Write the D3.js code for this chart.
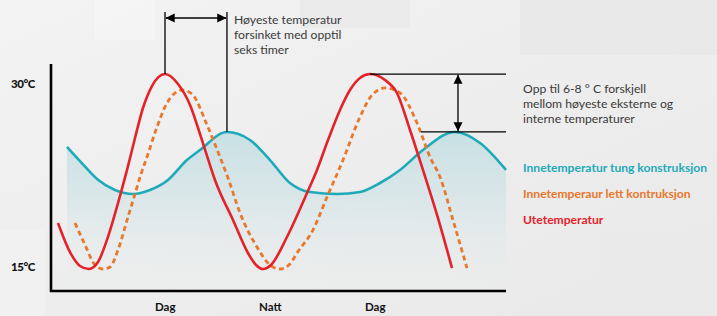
<!DOCTYPE html>
<html><head><meta charset="utf-8">
<script src="https://cdn.jsdelivr.net/npm/d3@7"></script>
<style>
html,body{margin:0;padding:0;background:#ececec;}
svg{display:block;font-family:Lato,"Open Sans","DejaVu Sans",sans-serif;}
</style>
</head><body>
<svg id="c" width="717" height="316"></svg>
<script>
// ---- data (hours along the time axis, temperature in °C) ----
const outdoorHours = [0.8,2.17,3.31,4.34,5.37,6.51,7.66,8.69,9.6,10.51,11.54,13.03,14.51,15.89,17.03,17.94,18.74,20.8,22.51,23.43,24.23,25.14,26.97,29.26,30.4,31.66,33.03,34.17,35.31,36.46,38.17,39.54,41.03,42.51,44.46,45.83];
const outdoorTemp  = [18.57,16.19,15.05,14.8,15.37,17.42,20.2,22.91,25.52,27.98,29.78,30.76,29.95,28.23,25.85,23.81,22.09,18.81,16.11,15.13,14.8,15.13,17.42,21.02,22.91,25.36,27.82,29.45,30.44,30.76,30.27,29.21,26.18,22.91,18.4,14.88];

const lightHours = [2.74,3.89,5.03,5.94,6.74,7.66,8.8,9.6,10.29,10.97,12.11,13.26,14.17,14.97,16.11,17.83,19.31,20.23,21.6,23.54,25.03,26.17,27.31,28.11,29.94,31.54,33.37,35.31,36.69,38.17,39.89,41.83,43.31,44.46,45.94,47.54];
const lightTemp  = [18.57,16.77,15.13,14.8,14.96,16.36,19.06,20.94,22.58,23.97,26.42,28.39,29.21,29.45,29.13,26.59,23.97,22.25,19.39,16.6,15.13,14.8,15.21,16.11,17.99,20.69,23.72,27.24,29.04,29.62,29.21,26.75,23.97,22.33,18.81,14.88];

const heavyHours = [1.83,3.31,5.26,7.31,9.37,11.31,13.37,15.54,17.03,20.11,22.74,25.03,27.31,29.6,32.69,35.31,37.6,39.89,42.51,46.17,49.03,52];
const heavyTemp  = [24.79,23.64,22.17,21.27,20.94,21.27,22.09,23.72,24.54,26.02,25.36,23.72,21.84,21.1,20.94,21.1,21.84,22.91,24.54,26.02,25.12,22.91];

const yTickValues = [30, 15];
const xTickHours  = [13, 25, 37];
const xTickLabels = ["Dag", "Natt", "Dag"];

const legendLabels = ["Innetemperatur tung konstruksjon", "Innetemperaur lett kontruksjon", "Utetemperatur"];
const noteDelay = ["Høyeste temperatur", "forsinket med opptil", "seks timer"];
const noteDiff  = ["Opp til 6-8 ° C forskjell", "mellom høyeste eksterne og", "interne temperaturer"];

// ---- colours ----
const RED = "#e42229", ORANGE = "#e9772c", TEAL = "#1eaab9";

const svg = d3.select("#c");
const W = 717, H = 316;

// background (faint photo-like tones)
const defs = svg.append("defs");
const bg = defs.append("linearGradient").attr("id","bg").attr("x1",0).attr("y1",0).attr("x2",1).attr("y2",1);
bg.append("stop").attr("offset","0%").attr("stop-color","#f3f3f3");
bg.append("stop").attr("offset","55%").attr("stop-color","#ededed");
bg.append("stop").attr("offset","100%").attr("stop-color","#e9e9e9");
svg.append("rect").attr("width",W).attr("height",H).attr("fill","url(#bg)");
// faint structures
[[95,0,60,40,"#f5f5f5"],[300,0,110,28,"#eaeaea"],[520,0,197,55,"#e7e7e7"],[0,230,45,86,"#f1f1f1"],[600,230,117,86,"#eaeaea"]]
 .forEach(r=>svg.append("rect").attr("x",r[0]).attr("y",r[1]).attr("width",r[2]).attr("height",r[3]).attr("fill",r[4]).attr("opacity",0.8));

// scales
const x = d3.scaleLinear().domain([0, 52]).range([51, 506]);
const y = d3.scaleLinear().domain([13, 31.5]).range([291, 65]);

// teal fill gradient
const fg = defs.append("linearGradient").attr("id","fillg").attr("gradientUnits","userSpaceOnUse")
  .attr("x1",0).attr("y1",y(26)).attr("x2",0).attr("y2",y(13));
fg.append("stop").attr("offset","0%").attr("stop-color","#c3dfe3").attr("stop-opacity",0.9);
fg.append("stop").attr("offset","40%").attr("stop-color","#d3e4e7").attr("stop-opacity",0.75);
fg.append("stop").attr("offset","100%").attr("stop-color","#eaeeee").attr("stop-opacity",0.1);

const heavy = heavyHours.map((h,i)=>({h, t: heavyTemp[i]}));
const light = lightHours.map((h,i)=>({h, t: lightTemp[i]}));
const outdoor = outdoorHours.map((h,i)=>({h, t: outdoorTemp[i]}));

const area = d3.area().x(d=>x(d.h)).y0(y(13)).y1(d=>y(d.t)).curve(d3.curveMonotoneX);
const line = d3.line().x(d=>x(d.h)).y(d=>y(d.t)).curve(d3.curveMonotoneX);

svg.append("path").datum(heavy).attr("d", area).attr("fill","url(#fillg)");

// axes
const yAxis = d3.axisLeft(y).tickValues(yTickValues).tickFormat(d=>d+"°C").tickSize(0).tickSizeOuter(0).tickPadding(16);
const gy = svg.append("g").attr("transform","translate(51,0)").call(yAxis);
gy.select(".domain").attr("stroke","#000").attr("stroke-width",2.6).attr("d","M0,292V64");
gy.selectAll("text").attr("font-family","Lato, sans-serif").attr("font-weight","900").attr("font-size",11.5).attr("fill","#111").attr("letter-spacing","-0.4");

const xAxis = d3.axisBottom(x).tickValues(xTickHours).tickFormat((d,i)=>xTickLabels[i]).tickSize(0).tickSizeOuter(0).tickPadding(12);
const gx = svg.append("g").attr("transform","translate(0,291)").call(xAxis);
gx.select(".domain").attr("stroke","#000").attr("stroke-width",2.6).attr("d","M50,0H506");
gx.selectAll("text").attr("font-family","Lato, sans-serif").attr("font-weight","bold").attr("font-size",11.5).attr("fill","#111");

// lines
svg.append("path").datum(heavy).attr("d", line).attr("fill","none").attr("stroke",TEAL).attr("stroke-width",2.6);
svg.append("path").datum(light).attr("d", line).attr("fill","none").attr("stroke",ORANGE).attr("stroke-width",2.8).attr("stroke-dasharray","5,3.5");
svg.append("path").datum(outdoor).attr("d", line).attr("fill","none").attr("stroke",RED).attr("stroke-width",2.6);

// arrow markers
defs.append("marker").attr("id","ah").attr("viewBox","0 0 10 10").attr("refX",10).attr("refY",5)
  .attr("markerWidth",9).attr("markerHeight",10).attr("markerUnits","userSpaceOnUse").attr("orient","auto-start-reverse")
  .append("path").attr("d","M0,0L10,5L0,10Z").attr("fill","#000");

// peaks
function peakIn(data, lo, hi){
  const sub = data.filter(d=>d.h>=lo && d.h<hi);
  return sub[d3.maxIndex(sub, d=>d.t)];
}
const rP1 = peakIn(outdoor,0,24), rP2 = peakIn(outdoor,24,52);
const hP1 = peakIn(heavy,0,30), hP2 = peakIn(heavy,30,52);

const ann = svg.append("g").attr("stroke","#000").attr("stroke-width",1.3);
// delay bracket
ann.append("line").attr("x1",x(rP1.h)).attr("x2",x(rP1.h)).attr("y1",12).attr("y2",y(rP1.t));
ann.append("line").attr("x1",x(hP1.h)).attr("x2",x(hP1.h)).attr("y1",12).attr("y2",y(hP1.t));
ann.append("line").attr("x1",x(rP1.h)+0.7).attr("x2",x(hP1.h)-0.7).attr("y1",18).attr("y2",18)
  .attr("marker-start","url(#ah)").attr("marker-end","url(#ah)");
// difference bracket
ann.append("line").attr("x1",x(rP2.h)).attr("x2",506).attr("y1",y(rP2.t)).attr("y2",y(rP2.t));
ann.append("line").attr("x1",x(hP2.h)-34).attr("x2",506).attr("y1",y(hP2.t)).attr("y2",y(hP2.t));
ann.append("line").attr("x1",x(hP2.h)+3).attr("x2",x(hP2.h)+3).attr("y1",y(rP2.t)+0.7).attr("y2",y(hP2.t)-0.7)
  .attr("marker-start","url(#ah)").attr("marker-end","url(#ah)");

// annotation texts
const noteStyle = s=>s.attr("font-family","Lato, sans-serif").attr("font-size",12.2).attr("fill","#3a3a3a");
noteDelay.forEach((t,i)=>svg.append("text").attr("x",234).attr("y",24+i*15).text(t).call(noteStyle));
noteDiff.forEach((t,i)=>svg.append("text").attr("x",523).attr("y",93+i*15).text(t).call(noteStyle));

// legend
const legColors = [TEAL, ORANGE, RED];
legendLabels.forEach((t,i)=>svg.append("text").attr("x",523).attr("y",172+i*26).text(t)
  .attr("font-family","Lato, sans-serif").attr("font-weight","bold").attr("font-size",12.1).attr("fill",legColors[i]));
</script>
</body></html>
